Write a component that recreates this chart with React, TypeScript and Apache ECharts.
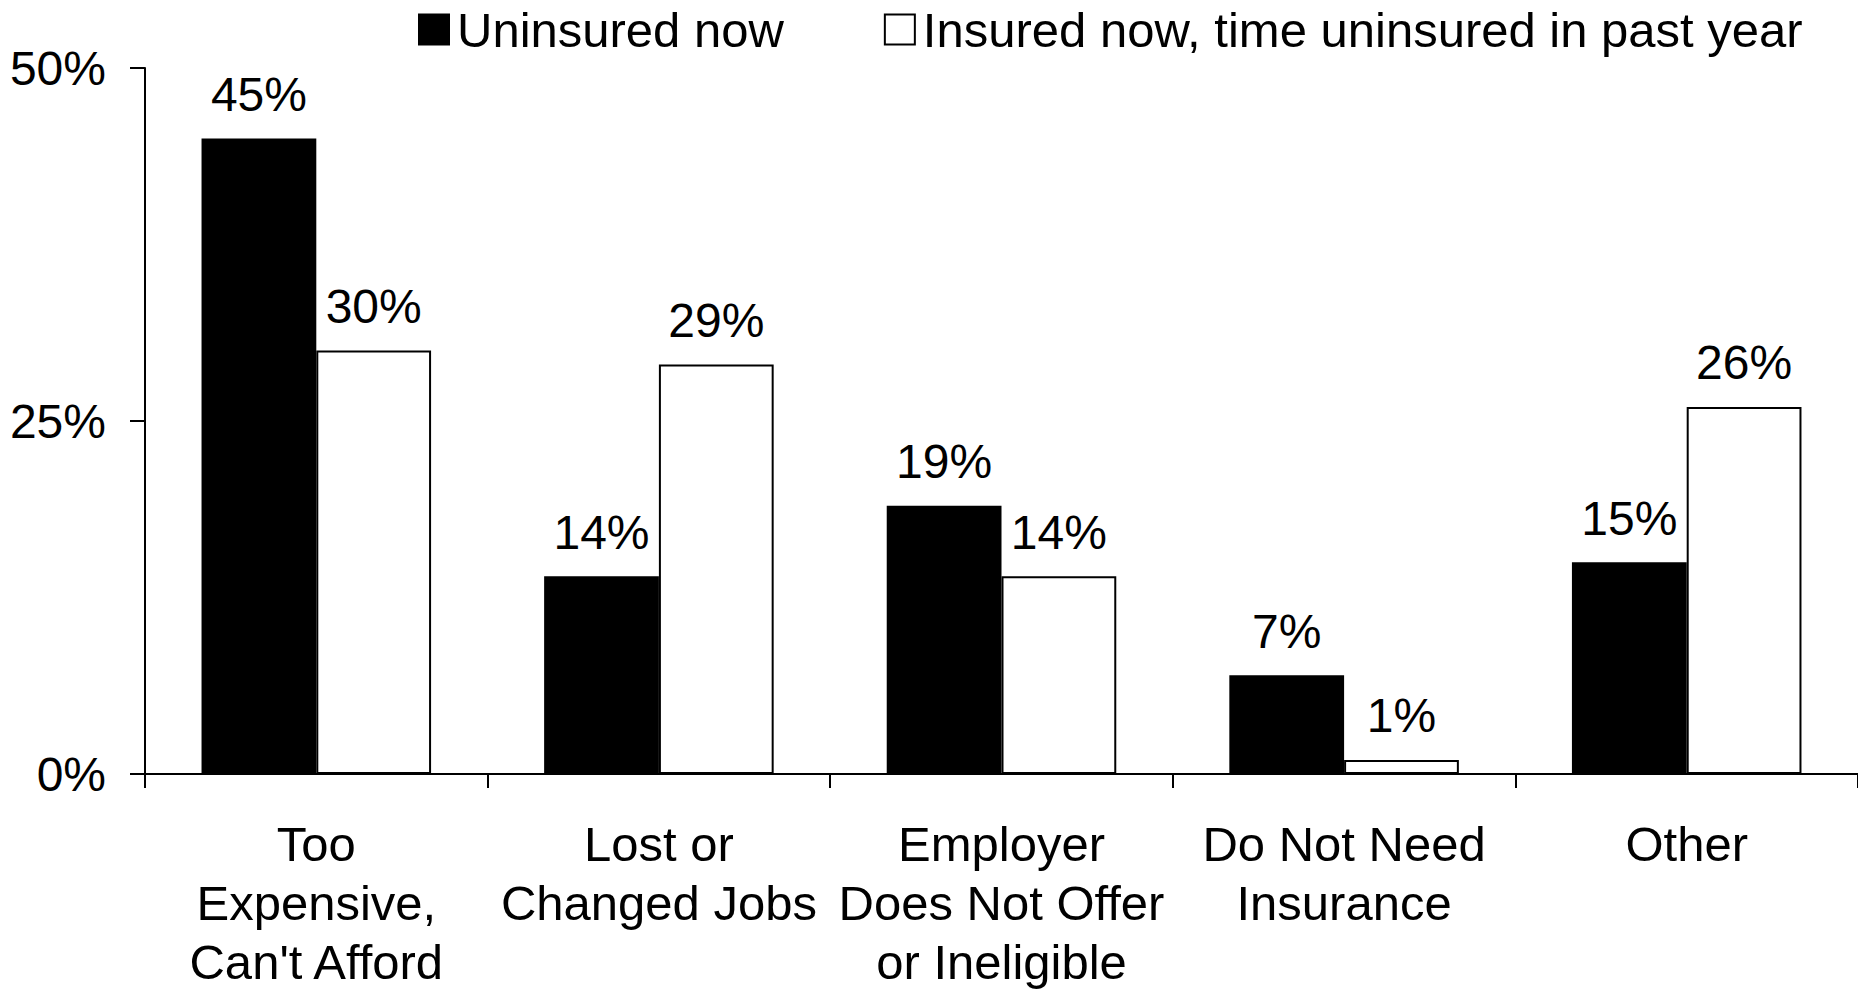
import React, { useEffect, useRef } from "react";
import * as echarts from "echarts";

const categories = [
  "Too\nExpensive,\nCan't Afford",
  "Lost or\nChanged Jobs",
  "Employer\nDoes Not Offer\nor Ineligible",
  "Do Not Need\nInsurance",
  "Other",
];
const uninsuredNow = [45, 14, 19, 7, 15];
const insuredNowPastYear = [30, 29, 14, 1, 26];
const seriesNames = ["Uninsured now", "Insured now, time uninsured in past year"];
const yTicks = { min: 0, max: 50, interval: 25 };

const FONT = "'Liberation Sans', Arial, sans-serif";

export default function App() {
  const ref = useRef<HTMLDivElement>(null);
  useEffect(() => {
    document.body.style.margin = "0";
    if (!ref.current) return;
    const chart = echarts.init(ref.current, undefined, { renderer: "svg" });
    const labelCfg = {
      show: true,
      position: "top",
      distance: 20,
      formatter: "{c}%",
      color: "#000",
      fontSize: 48,
      fontFamily: FONT,
    };
    chart.setOption({
      animation: false,
      backgroundColor: "#fff",
      textStyle: { fontFamily: FONT, color: "#000" },
      legend: {
        left: 413,
        top: 0,
        itemWidth: 30,
        itemHeight: 30,
        itemGap: 100,
        icon: "rect",
        textStyle: { fontSize: 49, color: "#000", fontFamily: FONT, padding: [0, 0, 0, 3] },
        data: seriesNames,
      },
      grid: { left: 145, top: 68, width: 1722, bottom: 210, containLabel: false },
      xAxis: {
        type: "category",
        data: categories,
        axisLine: { show: true, lineStyle: { color: "#000", width: 2 } },
        axisTick: { show: true, length: 14, lineStyle: { color: "#000", width: 2 } },
        axisLabel: {
          color: "#000",
          fontSize: 49,
          fontFamily: FONT,
          margin: 40,
          lineHeight: 59,
          interval: 0,
        },
      },
      yAxis: {
        type: "value",
        min: yTicks.min,
        max: yTicks.max,
        interval: yTicks.interval,
        splitLine: { show: false },
        axisLine: { show: true, lineStyle: { color: "#000", width: 2 } },
        axisTick: { show: true, length: 15, lineStyle: { color: "#000", width: 2 } },
        axisLabel: {
          color: "#000",
          fontSize: 48,
          fontFamily: FONT,
          margin: 39,
          formatter: "{value}%",
        },
      },
      series: [
        {
          name: seriesNames[0],
          type: "bar",
          data: uninsuredNow,
          barGap: "0%",
          barCategoryGap: "33%",
          itemStyle: { color: "#000", borderColor: "#000", borderWidth: 2 },
          label: labelCfg,
        },
        {
          name: seriesNames[1],
          type: "bar",
          data: insuredNowPastYear,
          barGap: "0%",
          barCategoryGap: "33%",
          itemStyle: { color: "#fff", borderColor: "#000", borderWidth: 2 },
          label: labelCfg,
        },
      ],
    });
    return () => chart.dispose();
  }, []);
  return <div ref={ref} style={{ width: 1858, height: 991 }} />;
}
